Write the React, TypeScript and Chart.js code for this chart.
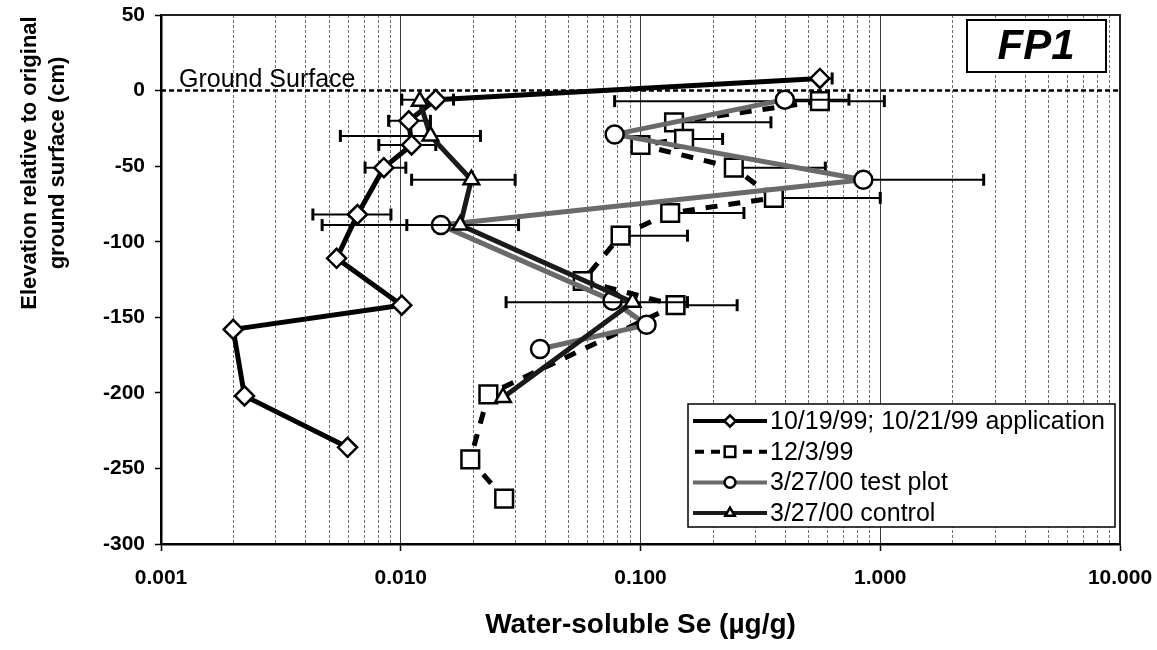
import React, { useEffect, useRef } from "react";
import { Chart, registerables } from "chart.js";

Chart.register(...registerables);

// ---------- data ----------
const seriesLabels = [
  "10/19/99; 10/21/99 application",
  "12/3/99",
  "3/27/00 test plot",
  "3/27/00 control",
];

// 10/19/99; 10/21/99 application (diamonds)
const appX = [0.56, 0.014, 0.0108, 0.0111, 0.0085, 0.0066, 0.0054, 0.0101, 0.002, 0.00223, 0.006];
const appY = [8, -6, -20, -36, -51, -82, -111, -142, -158, -202, -236];
const appLo = [null, 0.0101, 0.0089, 0.0081, 0.0071, 0.0043, null, null, null, null, null];
const appHi = [0.63, 0.0166, 0.0133, 0.014, 0.0105, 0.0091, null, null, null, null, null];

// 12/3/99 (squares)
const decX = [0.56, 0.138, 0.152, 0.1, 0.245, 0.36, 0.133, 0.0826, 0.0574, 0.14, 0.0232, 0.0195, 0.027];
const decY = [-7, -21, -32, -36, -51, -71, -81, -96, -126, -142, -201, -244, -270];
const decLo = [0.078, null, null, null, null, null, null, null, null, null, null, null, null];
const decHi = [1.04, 0.35, 0.22, null, 0.59, 1.0, 0.27, 0.157, null, 0.253, null, null, null];

// 3/27/00 test plot (circles)
const testX = [0.4, 0.078, 0.85, 0.0147, 0.0765, 0.106, 0.0381];
const testY = [-6, -29, -59, -89, -139, -155, -171];
const testLo = [null, null, null, 0.0106, null, null, null];
const testHi = [0.74, null, 2.7, null, null, null, null];

// 3/27/00 control (triangles)
const ctrlX = [0.012, 0.0133, 0.0197, 0.0177, 0.0927, 0.0267];
const ctrlY = [-7, -30, -59, -89, -140, -203];
const ctrlLo = [null, 0.0056, 0.0111, 0.0047, 0.0275, null];
const ctrlHi = [null, 0.0215, 0.03, 0.031, 0.157, null];

const xDecades = [0.001, 0.01, 0.1, 1, 10];
const xTickLabels = ["0.001", "0.010", "0.100", "1.000", "10.000"];
const minorMultipliers = [2, 3, 4, 5, 6, 7, 8, 9];
const yTickStep = 50;

const xTitle = "Water-soluble Se (µg/g)";
const yTitleLines = ["Elevation relative to original", "ground surface (cm)"];
const groundLabel = "Ground Surface";
const plotTag = "FP1";

const FONT = "'Liberation Sans', Arial, sans-serif";

type Marker = "rectRot" | "rect" | "circle" | "triangle";

const styles = [
  { color: "#000000", width: 5, dash: [] as number[], marker: "rectRot" as Marker, radius: 9.5 },
  { color: "#000000", width: 5, dash: [12, 11], marker: "rect" as Marker, radius: 12.5 },
  { color: "#6a6a6a", width: 5, dash: [] as number[], marker: "circle" as Marker, radius: 9 },
  { color: "#1a1a1a", width: 5, dash: [] as number[], marker: "triangle" as Marker, radius: 9 },
];

const errLo = [appLo, decLo, testLo, ctrlLo];
const errHi = [appHi, decHi, testHi, ctrlHi];

function drawMarker(ctx: CanvasRenderingContext2D, m: Marker, x: number, y: number, r: number) {
  ctx.beginPath();
  if (m === "circle") {
    ctx.arc(x, y, r, 0, Math.PI * 2);
  } else if (m === "rect") {
    const s = r * Math.SQRT1_2;
    ctx.rect(x - s, y - s, 2 * s, 2 * s);
  } else if (m === "rectRot") {
    ctx.moveTo(x, y - r);
    ctx.lineTo(x + r, y);
    ctx.lineTo(x, y + r);
    ctx.lineTo(x - r, y);
    ctx.closePath();
  } else {
    const a = (2 * Math.PI) / 3;
    ctx.moveTo(x, y - r);
    ctx.lineTo(x + Math.sin(a) * r, y - Math.cos(a) * r);
    ctx.lineTo(x + Math.sin(2 * a) * r, y - Math.cos(2 * a) * r);
    ctx.closePath();
  }
  ctx.fillStyle = "#ffffff";
  ctx.fill();
  ctx.lineWidth = 2.5;
  ctx.strokeStyle = "#000000";
  ctx.setLineDash([]);
  ctx.stroke();
}

const decorPlugin = {
  id: "decor",
  beforeDatasetsDraw(chart: any) {
    const { ctx, chartArea: a, scales } = chart;
    const x = scales.x;
    const y = scales.y;
    ctx.save();
    // minor vertical gridlines
    ctx.strokeStyle = "#6e6e6e";
    ctx.lineWidth = 1;
    ctx.setLineDash([3, 2]);
    for (const d of xDecades.slice(0, -1)) {
      for (const m of minorMultipliers) {
        const px = Math.round(x.getPixelForValue(d * m)) + 0.5;
        ctx.beginPath();
        ctx.moveTo(px, a.top);
        ctx.lineTo(px, a.bottom);
        ctx.stroke();
      }
    }
    // frame top & right
    ctx.setLineDash([]);
    ctx.strokeStyle = "#222";
    ctx.lineWidth = 2;
    ctx.beginPath();
    ctx.moveTo(a.left, a.top);
    ctx.lineTo(a.right, a.top);
    ctx.lineTo(a.right, a.bottom);
    ctx.stroke();
    // ground surface line
    const gy = y.getPixelForValue(0);
    ctx.strokeStyle = "#000";
    ctx.lineWidth = 2.5;
    ctx.setLineDash([5, 3]);
    ctx.beginPath();
    ctx.moveTo(a.left, gy);
    ctx.lineTo(a.right, gy);
    ctx.stroke();
    ctx.setLineDash([]);
    ctx.fillStyle = "#000";
    ctx.font = `25px ${FONT}`;
    ctx.textAlign = "left";
    ctx.textBaseline = "alphabetic";
    ctx.fillText(groundLabel, 179, gy - 4);
    ctx.restore();
  },
  beforeDatasetDraw(chart: any, args: any) {
    const i = args.index;
    const lo = errLo[i];
    const hi = errHi[i];
    const ds = chart.data.datasets[i];
    const { ctx, scales } = chart;
    const x = scales.x;
    const y = scales.y;
    ctx.save();
    ctx.strokeStyle = "#000";
    ctx.setLineDash([]);
    ds.data.forEach((p: any, k: number) => {
      if (lo[k] == null && hi[k] == null) return;
      const py = y.getPixelForValue(p.y);
      const px = x.getPixelForValue(p.x);
      const l = lo[k] != null ? x.getPixelForValue(lo[k]) : px;
      const h = hi[k] != null ? x.getPixelForValue(hi[k]) : px;
      ctx.lineWidth = 2;
      ctx.beginPath();
      ctx.moveTo(l, py);
      ctx.lineTo(h, py);
      ctx.stroke();
      ctx.lineWidth = 3;
      if (lo[k] != null) {
        ctx.beginPath();
        ctx.moveTo(l, py - 6);
        ctx.lineTo(l, py + 6);
        ctx.stroke();
      }
      if (hi[k] != null) {
        ctx.beginPath();
        ctx.moveTo(h, py - 6);
        ctx.lineTo(h, py + 6);
        ctx.stroke();
      }
    });
    ctx.restore();
  },
  afterDraw(chart: any) {
    const { ctx } = chart;
    ctx.save();
    // y title
    ctx.fillStyle = "#000";
    ctx.font = `bold 22px ${FONT}`;
    ctx.textAlign = "center";
    ctx.textBaseline = "middle";
    const cy = 163;
    [30, 58].forEach((cx, i) => {
      ctx.save();
      ctx.translate(cx, cy);
      ctx.rotate(-Math.PI / 2);
      ctx.fillText(yTitleLines[i], 0, 0);
      ctx.restore();
    });
    // FP1 box
    ctx.fillStyle = "#fff";
    ctx.fillRect(967, 20, 139, 52);
    ctx.strokeStyle = "#000";
    ctx.lineWidth = 2;
    ctx.strokeRect(967, 20, 139, 52);
    ctx.fillStyle = "#000";
    ctx.font = `italic bold 42px ${FONT}`;
    ctx.fillText(plotTag, 1036, 47);
    // legend
    const lx = 688, ly = 404, lw = 427, lh = 123;
    ctx.fillStyle = "#fff";
    ctx.fillRect(lx, ly, lw, lh);
    ctx.strokeStyle = "#000";
    ctx.lineWidth = 1.5;
    ctx.strokeRect(lx, ly, lw, lh);
    ctx.font = `25px ${FONT}`;
    ctx.textAlign = "left";
    seriesLabels.forEach((lab, i) => {
      const s = styles[i];
      const ry = 421 + i * 30.7;
      ctx.strokeStyle = s.color;
      ctx.lineWidth = 4;
      ctx.setLineDash(s.dash.length ? [9, 7] : []);
      ctx.lineDashOffset = s.dash.length ? -2 : 0;
      ctx.beginPath();
      ctx.moveTo(693, ry);
      ctx.lineTo(767, ry);
      ctx.stroke();
      ctx.setLineDash([]);
      ctx.lineDashOffset = 0;
      drawMarker(ctx, s.marker, 730, ry, s.radius * 0.6);
      ctx.fillStyle = "#000";
      ctx.fillText(lab, 770, ry + 1);
    });
    ctx.restore();
  },
};

export default function App() {
  const ref = useRef<HTMLCanvasElement>(null);
  useEffect(() => {
    document.body.style.margin = "0";
    document.body.style.background = "#fff";
    const canvas = ref.current!;
    const xs = [appX, decX, testX, ctrlX];
    const ys = [appY, decY, testY, ctrlY];
    const datasets = seriesLabels.map((label, i) => {
      const s = styles[i];
      return {
        label,
        data: xs[i].map((v, k) => ({ x: v, y: ys[i][k] })),
        showLine: true,
        borderColor: s.color,
        borderWidth: s.width,
        borderDash: s.dash,
        borderJoinStyle: "round" as const,
        borderCapStyle: "butt" as const,
        pointStyle: s.marker,
        pointRadius: s.radius,
        pointBorderWidth: 2.5,
        pointBorderColor: "#000",
        pointBackgroundColor: "#fff",
        order: 4 - i,
      };
    });
    const chart = new Chart(canvas, {
      type: "scatter",
      data: { datasets },
      options: {
        responsive: false,
        animation: false,
        devicePixelRatio: 1,
        layout: { padding: { top: 11, right: 37, left: 0, bottom: 0 } },
        plugins: { legend: { display: false }, tooltip: { enabled: false } },
        scales: {
          x: {
            type: "logarithmic",
            min: 0.001,
            max: 10,
            afterBuildTicks: (s: any) => {
              s.ticks = xDecades.map((v) => ({ value: v, major: true }));
            },
            afterFit: (s: any) => {
              s.height = 106;
              s.paddingLeft = 0;
              s.paddingRight = 0;
            },
            ticks: {
              callback: (_v: any, i: number) => xTickLabels[i],
              color: "#000",
              font: { family: FONT, size: 21, weight: "bold" },
              padding: 15,
              maxRotation: 0,
              autoSkip: false,
            },
            grid: { color: "#3a3a3a", lineWidth: 1, tickLength: 7, tickColor: "#000", tickWidth: 1.5 },
            border: { color: "#000", width: 2.5 },
            title: {
              display: true,
              text: xTitle,
              color: "#000",
              font: { family: FONT, size: 28, weight: "bold" },
              padding: { top: 0, bottom: 8 },
            },
          },
          y: {
            min: -300,
            max: 50,
            afterFit: (s: any) => {
              s.width = 161;
              s.paddingTop = 0;
              s.paddingBottom = 0;
            },
            ticks: {
              stepSize: yTickStep,
              color: "#000",
              font: { family: FONT, size: 21, weight: "bold" },
              padding: 10,
              callback: (v: any) => String(v),
            },
            grid: { drawOnChartArea: false, tickLength: 6, tickColor: "#000", tickWidth: 1.5 },
            border: { color: "#000", width: 2.5 },
          },
        },
      },
      plugins: [decorPlugin],
    } as any);
    return () => chart.destroy();
  }, []);
  return <canvas ref={ref} width={1157} height={650} style={{ display: "block", width: 1157, height: 650 }} />;
}
